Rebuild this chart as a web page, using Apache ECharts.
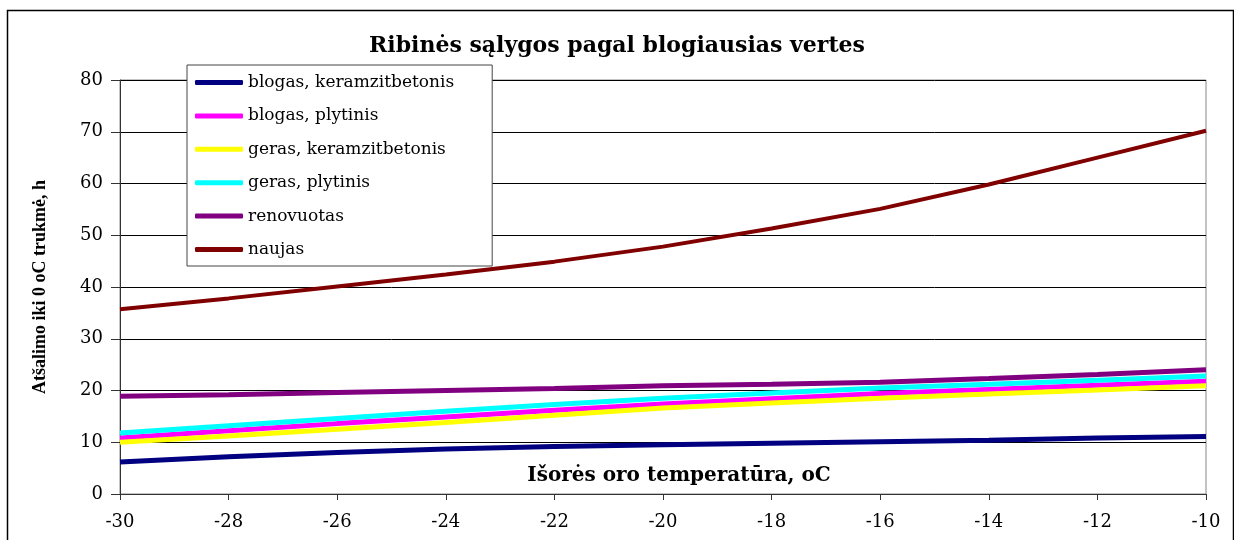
<!DOCTYPE html>
<html>
<head>
<meta charset="utf-8">
<script src="https://cdn.jsdelivr.net/npm/echarts@6/dist/echarts.min.js"></script>
<style>
html,body{margin:0;padding:0;background:#fff;}
#chart{width:1234px;height:540px;}
</style>
</head>
<body>
<div id="chart"></div>
<script>
const titleText = 'Ribinės sąlygos pagal blogiausias vertes';
const xAxisName = 'Išorės oro temperatūra, oC';
const yAxisName = 'Atšalimo iki 0 oC trukmė, h';
const temps = [-30, -28, -26, -24, -22, -20, -18, -16, -14, -12, -10];
const seriesNames = ['blogas, keramzitbetonis', 'blogas, plytinis', 'geras, keramzitbetonis', 'geras, plytinis', 'renovuotas', 'naujas'];
const blogasKeramzit = [6.2, 7.2, 8.0, 8.7, 9.2, 9.5, 9.8, 10.1, 10.4, 10.8, 11.1];
const blogasPlytinis = [10.8, 12.2, 13.6, 14.9, 16.2, 17.4, 18.4, 19.4, 20.2, 21.0, 21.8];
const gerasKeramzit = [10.0, 11.2, 12.5, 13.8, 15.2, 16.6, 17.6, 18.5, 19.3, 20.1, 20.9];
const gerasPlytinis = [11.8, 13.2, 14.6, 16.0, 17.3, 18.5, 19.5, 20.5, 21.2, 22.0, 22.8];
const renovuotas = [18.9, 19.2, 19.6, 20.0, 20.4, 20.9, 21.2, 21.6, 22.3, 23.1, 24.0];
const naujas = [35.7, 37.8, 40.1, 42.4, 44.9, 47.8, 51.3, 55.1, 59.8, 65.0, 70.2];

const allValues = [blogasKeramzit, blogasPlytinis, gerasKeramzit, gerasPlytinis, renovuotas, naujas];
const colors = ['#000080', '#FF00FF', '#FFFF00', '#00FFFF', '#800080', '#800000'];
const widths = [5, 5, 5, 5, 5, 4];
const serif = '"Liberation Serif", "DejaVu Serif", serif';
const wide = '"DejaVu Serif", serif';

const chart = echarts.init(document.getElementById('chart'));
chart.setOption({
  animation: false,
  backgroundColor: '#fff',
  title: {
    text: titleText,
    left: 'center',
    top: 30,
    textStyle: {fontFamily: wide, fontWeight: 'bold', fontSize: 22, color: '#000'}
  },
  graphic: [{
    type: 'rect', left: 5, top: 8,
    shape: {width: 1226, height: 540},
    style: {fill: 'none', stroke: '#000', lineWidth: 1.5}, z: 0, silent: true
  }, {
    type: 'text', x: 679, y: 476, z: 50, silent: true,
    style: {text: xAxisName, fontFamily: wide, fontWeight: 'bold', fontSize: 20, fill: '#000',
            align: 'center', verticalAlign: 'middle'}
  }],
  legend: {
    orient: 'vertical',
    left: 187, top: 65,
    padding: [8, 38, 7, 8],
    itemGap: 14.4,
    itemWidth: 48, itemHeight: 5,
    icon: 'roundRect',
    backgroundColor: '#fff',
    borderColor: '#444', borderWidth: 1,
    textStyle: {fontFamily: wide, fontSize: 17, color: '#000', height: 19, lineHeight: 19},
    data: seriesNames
  },
  grid: {left: 120, right: 28, top: 80, bottom: 46, outerBoundsMode: 'none', containLabel: false,
         show: true, borderColor: '#888', borderWidth: 1},
  xAxis: {
    type: 'value', min: -30, max: -10, interval: 2,
    axisLine: {onZero: false, lineStyle: {color: '#333', width: 1}},
    axisTick: {show: true, length: 6, inside: false, lineStyle: {color: '#333'}},
    axisLabel: {fontFamily: wide, fontSize: 18, color: '#000', margin: 19},
    splitLine: {show: false}
  },
  yAxis: {
    type: 'value', min: 0, max: 80, interval: 10,
    name: yAxisName, nameLocation: 'middle', nameGap: 71, nameRotate: 90,
    nameTextStyle: {fontFamily: serif, fontWeight: 'bold', fontSize: 18, color: '#000'},
    axisLine: {show: true, lineStyle: {color: '#333', width: 1}},
    axisTick: {show: true, length: 9, lineStyle: {color: '#333'}},
    axisLabel: {fontFamily: wide, fontSize: 18, color: '#000', margin: 17},
    splitLine: {show: true, lineStyle: {color: '#000', width: 1}}
  },
  series: seriesNames.map((n, i) => ({
    name: n,
    type: 'line',
    data: temps.map((t, j) => [t, allValues[i][j]]),
    showSymbol: false,
    symbol: 'none',
    smooth: false,
    color: colors[i],
    lineStyle: {color: colors[i], width: widths[i]},
    z: 2 + i
  }))
});
</script>
</body>
</html>
